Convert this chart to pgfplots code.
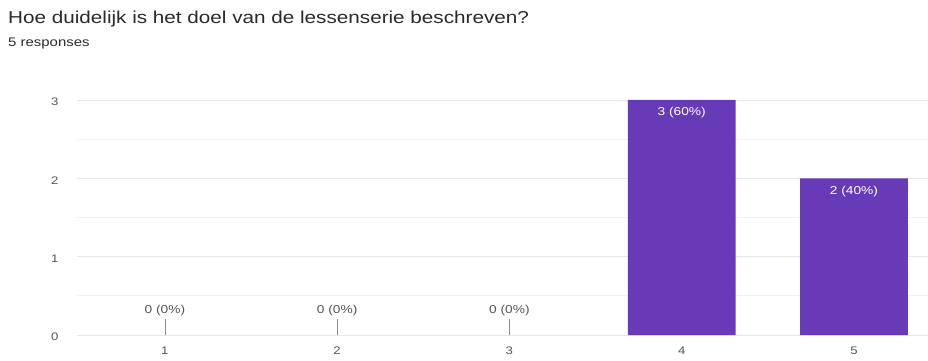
\documentclass[border=0pt]{standalone}
\usepackage{pgfplots}
\pgfplotsset{compat=1.18}
\usepackage{fontspec}
\setmainfont[FakeStretch=1.2]{Liberation Sans}
\definecolor{barpurple}{HTML}{673AB7}
\definecolor{titlegray}{HTML}{2A2A2A}
\definecolor{ticktxt}{HTML}{555555}
\begin{document}
\begin{tikzpicture}[x=1bp,y=1bp]
\useasboundingbox (0,0) rectangle (928,360);
\node[anchor=west,inner sep=0pt,font=\fontsize{17.3}{20}\selectfont,text=titlegray] at (8,341) {Hoe duidelijk is het doel van de lessenserie beschreven?};
\node[anchor=west,inner sep=0pt,font=\fontsize{12.5}{14}\selectfont,text=titlegray] at (8,316) {5 responses};
\begin{axis}[
  at={(77bp,25bp)}, anchor=south west, scale only axis,
  width=851bp, height=235bp,
  xmin=0.49, xmax=5.43, ymin=0, ymax=3,
  xtick={1,2,3,4,5},
  ytick={0,1,2,3}, minor ytick={0.5,1.5,2.5},
  ymajorgrids, yminorgrids,
  major grid style={draw=black!9, line width=0.8pt},
  minor grid style={draw=black!5, line width=0.8pt},
  extra y ticks={0}, extra y tick labels={},
  extra y tick style={grid style={draw=black!72, line width=1.5pt}},
  axis line style={draw=none},
  major tick length=0pt, minor tick length=0pt,
  /pgf/number format/assume math mode=true,
  tick label style={font=\fontsize{11}{13}\selectfont, text=ticktxt},
  yticklabel style={xshift=-15bp, yshift=-2bp},
  xticklabel style={yshift=-8bp},
  clip=false,
]
\addplot[ybar, bar width=0.626, fill=barpurple, draw=none,
  point meta=explicit symbolic, nodes near coords,
  every node near coord/.style={anchor=north, text=white, yshift=-4bp, font=\fontsize{11.5}{13}\selectfont}]
  coordinates {(4,3) [3 (60\%)] (5,2) [2 (40\%)]};
\addplot[ycomb, draw=black!45, line width=0.6pt, mark=none,
  point meta=explicit symbolic, nodes near coords,
  every node near coord/.style={anchor=south, text=ticktxt, yshift=-1bp, font=\fontsize{11.5}{13}\selectfont}]
  coordinates {(1,0.21) [0 (0\%)] (2,0.21) [0 (0\%)] (3,0.21) [0 (0\%)]};
\end{axis}
\end{tikzpicture}
\end{document}
